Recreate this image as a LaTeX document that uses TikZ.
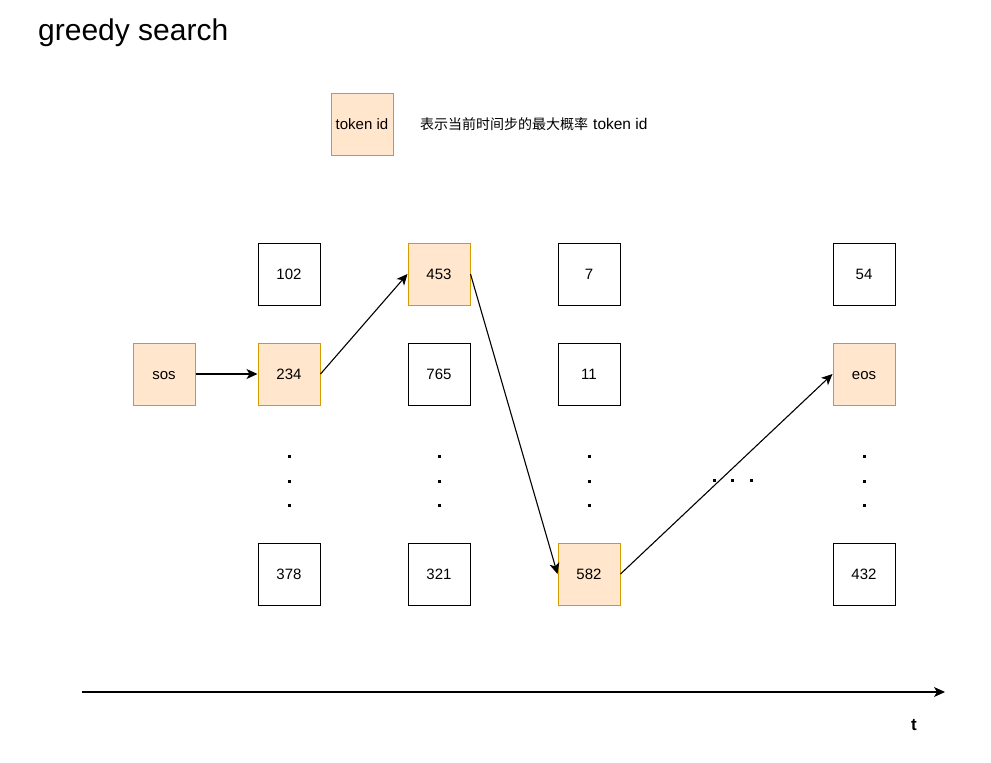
\documentclass[tikz,border=0pt]{standalone}
\usepackage{fontspec}
\setmainfont{Liberation Sans}
\newfontfamily\cjk{Noto Sans CJK SC}
\usetikzlibrary{arrows.meta}
\definecolor{ofill}{HTML}{FFE6CC}
\definecolor{ostroke}{HTML}{D79B00}
\tikzset{
  cell/.style={draw=black, line width=1pt, minimum width=62pt, minimum height=62pt, inner sep=0pt, text height=10.5pt, text depth=0pt, font=\fontsize{15}{17}\selectfont},
  hot/.style={cell, fill=ofill, draw=ostroke},
  conn/.style={draw=black, line width=1.1pt, -{Stealth[length=11pt,width=10pt,inset=3pt]}},
  dotmark/.style={fill=black, minimum size=3pt, inner sep=0pt},
}
\begin{document}
\begin{tikzpicture}[x=1pt,y=-1pt]
\useasboundingbox (0,0) rectangle (991,763);
\node[anchor=base west, font=\fontsize{30}{33}\selectfont, inner sep=0pt] (title) at (38,40) {greedy search};
\node[hot] (legend) at (362,124) {token id};
\node[anchor=west, inner sep=0pt, font=\fontsize{14}{16}\selectfont] (legendtext) at (420,124) {{\cjk 表示当前时间步的最大概率}\hspace{5pt}{\fontsize{15.5}{17}\selectfont token id}};
% column 0
\node[hot] (sos) at (164,374) {sos};
% column 1
\node[cell] (c1a) at (289,274) {102};
\node[hot] (c1b) at (289,374) {234};
\node[cell] (c1d) at (289,574) {378};
% column 2
\node[hot] (c2a) at (439,274) {453};
\node[cell] (c2b) at (439,374) {765};
\node[cell] (c2d) at (439,574) {321};
% column 3
\node[cell] (c3a) at (589,274) {7};
\node[cell] (c3b) at (589,374) {11};
\node[hot] (c3d) at (589,574) {582};
% column 4
\node[cell] (c4a) at (864,274) {54};
\node[hot] (c4b) at (864,374) {eos};
\node[cell] (c4d) at (864,574) {432};
% vertical dots
\foreach \cx/\nm in {289/a,439/b,589/c,864/d}{
  \foreach \cy/\k in {456/1,481/2,505/3}{
    \node[dotmark] (v\nm\k) at (\cx,\cy) {};
  }
}
% horizontal dots
\node[dotmark] (h1) at (714,480) {};
\node[dotmark] (h2) at (732,480) {};
\node[dotmark] (h3) at (751,480) {};
% connectors
\draw[conn] (sos.east) -- (c1b.west);
\draw[conn] (c1b.east) -- (c2a.west);
\draw[conn] (c2a.east) -- (c3d.west);
\draw[conn] (c3d.east) -- (c4b.west);
% time axis
\coordinate (ax0) at (82,692);
\coordinate (ax1) at (945,692);
\draw[conn] (ax0) -- (ax1);
\node[font=\fontsize{17}{20}\selectfont\bfseries, inner sep=0pt] (tlabel) at (914,725) {t};
\end{tikzpicture}
\end{document}
